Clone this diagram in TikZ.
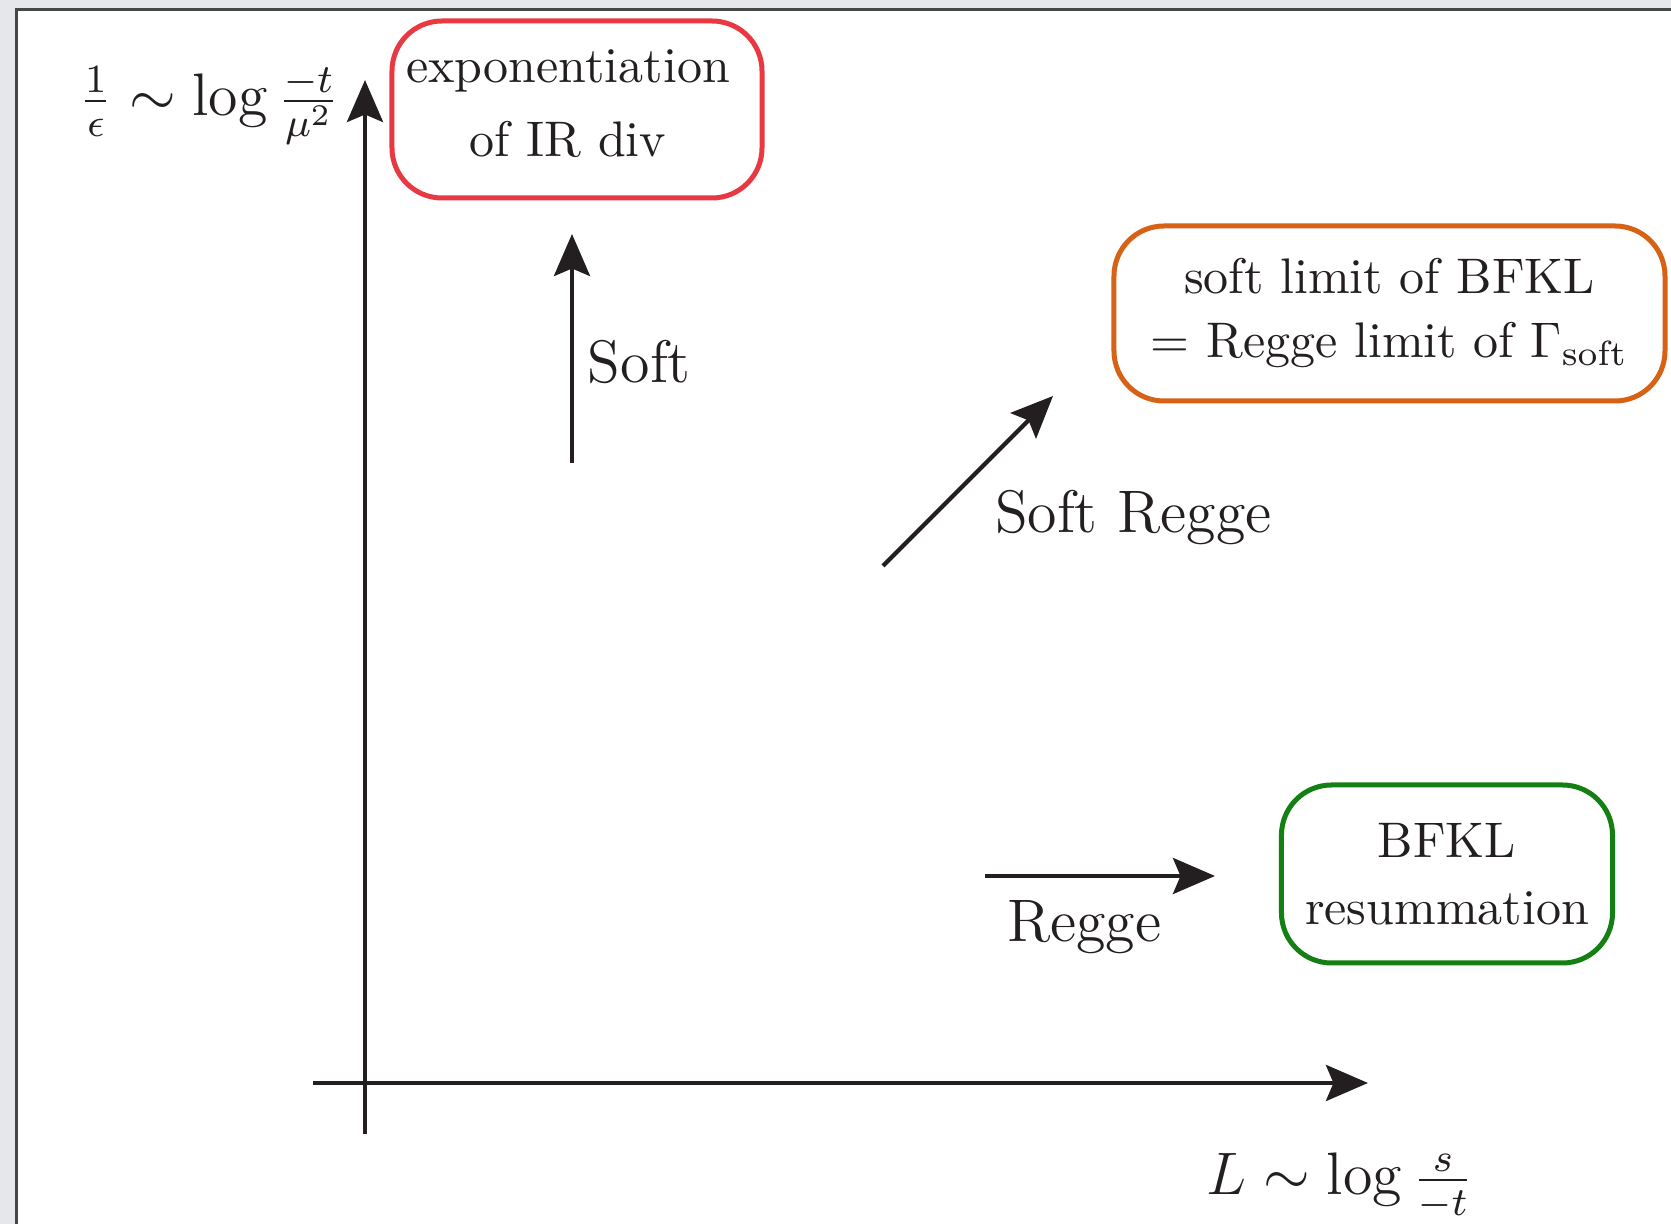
\documentclass[tikz,border=0pt]{standalone}
\usetikzlibrary{arrows.meta}
\definecolor{bggray}{RGB}{229,231,234}
\definecolor{framegray}{RGB}{70,70,72}
\definecolor{ink}{RGB}{35,31,32}
\definecolor{boxred}{RGB}{232,56,66}
\definecolor{boxorange}{RGB}{214,98,22}
\definecolor{boxgreen}{RGB}{20,128,20}
\begin{document}
\begin{tikzpicture}[x=0.2pt,y=-0.2pt,
  axis/.style={draw=ink, line width=0.85pt, -{Stealth[length=8.4pt,width=7.2pt,inset=1.5pt]}},
  sketchbox/.style={draw, line width=1pt, rounded corners=10pt, inner sep=0pt, text=ink, align=center},
  boxtext/.style={align=center, inner sep=0pt, text=ink},
  lbl/.style={inner sep=0pt, text=ink, font=\large},
]
\useasboundingbox (0,0) rectangle (1671,1224);
\fill[bggray] (0,0) rectangle (1671,1224);
\fill[white] (17,10) rectangle (1671,1224);
\draw[framegray, line width=0.45pt] (16.5,1224) -- (16.5,9.5) -- (1671,9.5);

% boxes
\node[sketchbox, draw=boxred, minimum width=74pt, minimum height=35.4pt] (irbox) at (577,109.5) {};
\node[boxtext, font=\fontsize{10}{14.8}\selectfont] (irtext) at (568,103.3) {exponentiation\\of IR div};
\node[sketchbox, draw=boxorange, minimum width=110.2pt, minimum height=35pt,
      font=\fontsize{10}{12.8}\selectfont] (softbfkl) at (1389.5,313.5)
      {soft limit of BFKL\\$=$ Regge limit of $\Gamma_{\mathrm{soft}}$};
\node[sketchbox, draw=boxgreen, minimum width=66.2pt, minimum height=35.6pt,
      font=\fontsize{10}{13.4}\selectfont] (bfkl) at (1447,874) {BFKL\\resummation};

% axes
\coordinate (ybot) at (365,1134);
\coordinate (ytop) at (365,80);
\coordinate (xleft) at (313,1083);
\coordinate (xright) at (1368,1083);
\draw[axis] (ybot) -- (ytop);
\draw[axis] (xleft) -- (xright);

% flow arrows
\coordinate (s0) at (572,463);
\coordinate (s1) at (572,234);
\coordinate (sr0) at (883,566);
\coordinate (sr1) at (1053,396);
\coordinate (r0) at (985,876);
\coordinate (r1) at (1215,876);
\draw[axis] (s0) -- (s1);
\draw[axis] (sr0) -- (sr1);
\draw[axis] (r0) -- (r1);

% labels
\node[lbl, anchor=base west] (softlbl) at (587,383) {Soft};
\node[lbl, anchor=base west] (srlbl) at (994,533) {Soft Regge};
\node[lbl, anchor=base west] (reggelbl) at (1006,942) {Regge};
\node[lbl, anchor=base] (xlbl) at (1340,1195) {$L\sim\log\frac{s}{-t}$};
\node[lbl, anchor=base] (ylbl) at (209,116) {$\frac{1}{\epsilon}\sim\log\frac{-t}{\mu^2}$};
\end{tikzpicture}
\end{document}
